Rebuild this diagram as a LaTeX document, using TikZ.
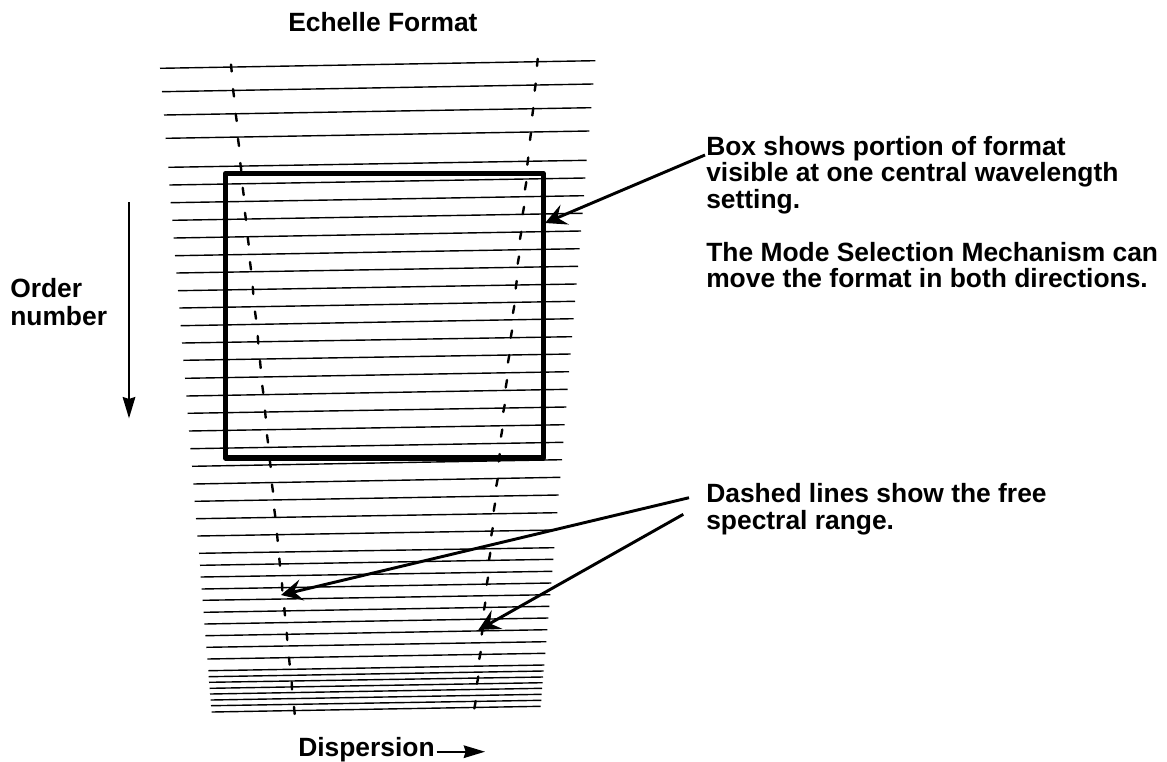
\documentclass[tikz,border=0pt]{standalone}
\usepackage{fontspec}
\setmainfont{Liberation Sans}[BoldFont={Liberation Sans Bold}]
\usetikzlibrary{arrows.meta}
\tikzset{
  orderline/.style={line width=1.05pt,black},
  fsrtick/.style={line width=1.8pt,black,line cap=round},
  framebox/.style={draw=black,line width=3.9pt,line join=round,inner sep=0pt,minimum width=238.5pt,minimum height=213.5pt},
  lab/.style={font=\fontsize{19.8pt}{19.8pt}\selectfont\bfseries,inner sep=0pt,align=left,anchor=north west},
  callout/.style={line width=2.2pt,black,-{Stealth[length=16pt,width=16pt,inset=6pt]}},
  axisarrow/.style={line width=1.25pt,black,-{Stealth[length=16pt,width=9.5pt,inset=1.5pt]}}
}
\begin{document}
\begin{tikzpicture}[x=0.75pt,y=-0.75pt]
\useasboundingbox (0,0) rectangle (1167,761);
% spectral orders
\foreach \xa/\ya/\xb/\yb in {
160/68.3/595.3/60.7,162/91.7/593.3/84,164/115/591.3/107.7,165.7/138.3/589.3/131,
168.3/167.3/586.7/160.3,169.3/185/585.3/178,170.7/202.7/584/195.7,172.3/220.3/582.7/213.3,
173.7/238/581/231,175/255.7/579.7/248.7,176.3/273/578/266.3,178/290.7/576.7/284,
179.3/308/575/301.3,180.7/325.7/573.7/318.7,182/343/572/336.7,183.3/360.3/570.7/354,
185/378.3/569/371.7,186.3/396/567.7/389.3,187.7/413.3/566.3/407,189/431/564.7/424.7,
190.3/448.7/563.3/442.3,192/466.3/562/459.7,193.3/484/560.3/477.3,194.7/501.3/558.7/495,
196/518.7/557.3/512.7,197.3/536/556/530,199/553.3/554.3/547.7,200/565.3/553.3/559.3,
200.7/577/552.3/571.3,201.7/589/551.3/583,202.7/600.3/550.3/594.7,203.7/612.3/549.3/606.3,
204.3/624/548.3/618,205.3/635.7/547.3/629.7,206.3/647.3/546.3/641.7,207.3/659/545.3/653.3,
208.3/670.7/544.3/665,208.7/676.7/543.7/671,209/682.3/543/677,209.7/688.3/542.7/682.7,
210/694/542/688.3,210.7/700/541.7/694.3,211/705.7/541.3/700.3,211.7/712/540.7/706.3}
  {\draw[orderline] (\xa,\ya) -- (\xb,\yb);}
% free spectral range, left edge
\foreach \xa/\ya/\xb/\yb in {
231/64.5/231.7/71.5,233/89/234/96.5,235.7/113.8/236.7/121,238/138.8/239/146,
240.3/163/241.3/170.5,242.7/187.8/243.7/195,245/212.8/246/220,247.7/237.5/248.7/244.7,
250/262/251/269.5,252.7/286.8/253.3/294,255/311.5/256/318.7,257.7/336/258.3/343.5,
260/360.8/260.7/368,262.3/385.8/263.3/393,265/410.5/265.7/417.7,267/435/268/442.5,
269.7/459.8/270.7/467,272/484.5/273/491.7,274.3/509.5/275.3/516.7,277/533.8/277.7/541,
279.3/558.5/280/565.7,282/583/282.3/590.5,284.3/608/285/615.5,286.7/632.8/287.3/640,
289/657.5/289.7/664.7,291.7/682/292/689.5,294/706.8/294.7/714}
  {\draw[fsrtick] (\xa,\ya) -- (\xb,\yb);}
% free spectral range, right edge
\foreach \xa/\ya/\xb/\yb in {
537.7/58.8/537/66,535.7/83.5/534.7/90.7,533.3/108/532.3/115.5,531/132.8/530/140,
528.3/157.5/527.3/164.7,526.3/182/525/189.5,524/206.8/522.7/214,521.3/231.8/520/239,
519/256.5/517.7/263.7,516.7/281/515.7/288.5,514.3/305.8/513/313,512/330.5/510.7/337.7,
509.3/355/508/362.5,507/380/505.7/387.5,504.7/404.8/503.3/412,502.3/429.5/501/436.7,
499.7/454/498.7/461.5,497.7/478.8/496.3/486,495/503.5/493.7/511,492.7/528/491.3/535.5,
490.3/552.8/489/560,488/577.5/486.7/584.7,485.3/602.5/484/609.7,483/627/481.7/634.5,
480.7/651.8/479.3/659,478.3/676.5/477/683.7,475.7/701/474.3/708.5}
  {\draw[fsrtick] (\xa,\ya) -- (\xb,\yb);}
% box
\node[framebox] (frame) at (384.3,315.7) {};
% labels
\node[lab] (title) at (288,11.7) {Echelle Format};
\node[lab] (order) at (10,278.5) {Order\\[0.75pt]number};
\node[lab] (boxnote) at (706,135.8) {Box shows portion of format\\visible at one central wavelength\\setting.\\[20.1pt]The Mode Selection Mechanism can\\move the format in both directions.};
\node[lab] (dashnote) at (706,483.5) {Dashed lines show the free\\spectral range.};
\node[lab] (disp) at (298,737) {Dispersion};
% connectors
\coordinate (boxtip) at (545,223);
\coordinate (boxstart) at (705,155);
\coordinate (lefttip) at (281,595);
\coordinate (leftstart) at (689,497.7);
\coordinate (righttip) at (478.3,630);
\coordinate (rightstart) at (683.3,514.3);
\coordinate (ordstart) at (129,202.3);
\coordinate (ordtip) at (129,418.3);
\coordinate (dispstart) at (436.7,751.7);
\coordinate (disptip) at (485,751.7);
\draw[callout] (boxstart) -- (boxtip);
\draw[callout] (leftstart) -- (lefttip);
\draw[callout] (rightstart) -- (righttip);
\draw[axisarrow] (ordstart) -- (ordtip);
\draw[axisarrow] (dispstart) -- (disptip);
\end{tikzpicture}
\end{document}
